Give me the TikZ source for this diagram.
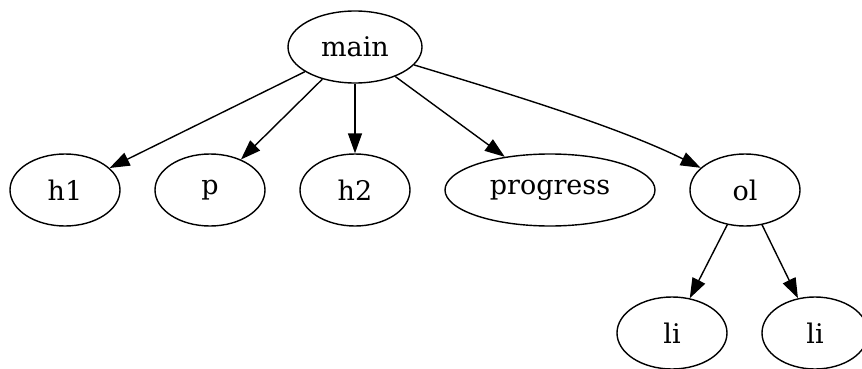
\documentclass[tikz,border=0pt]{standalone}
\usepackage{fontspec}
\setmainfont{DejaVu Serif}
\usetikzlibrary{shapes.geometric,arrows.meta}
\begin{document}
\begin{tikzpicture}[x=1pt,y=-1pt,
  tnode/.style={draw,ellipse,line width=1.4pt,inner sep=0pt,minimum height=72pt,font=\fontsize{27pt}{30pt}\selectfont},
  edge/.style={draw,line width=1.4pt,-{Triangle[length=20pt,width=14pt]}}]
\useasboundingbox (0,0) rectangle (862,369);
\node[tnode,minimum width=134pt] (main) at (355,47) {main};
\node[tnode,minimum width=110pt] (h1) at (65,190) {h1};
\node[tnode,minimum width=110pt] (p) at (210,190) {p};
\node[tnode,minimum width=110pt] (h2) at (355,190) {h2};
\node[tnode,minimum width=210pt] (progress) at (550,190) {progress};
\node[tnode,minimum width=110pt] (ol) at (745,190) {ol};
\node[tnode,minimum width=110pt] (li1) at (672,333) {li};
\node[tnode,minimum width=106pt] (li2) at (815,333) {li};
\path[edge] (main) -- (h1);
\path[edge] (main) -- (p);
\path[edge] (main) -- (h2);
\path[edge] (main) -- (progress);
\path[edge] (main) .. controls (490,88) and (615,125) .. (ol);
\path[edge] (ol) -- (li1);
\path[edge] (ol) -- (li2);
\end{tikzpicture}
\end{document}
